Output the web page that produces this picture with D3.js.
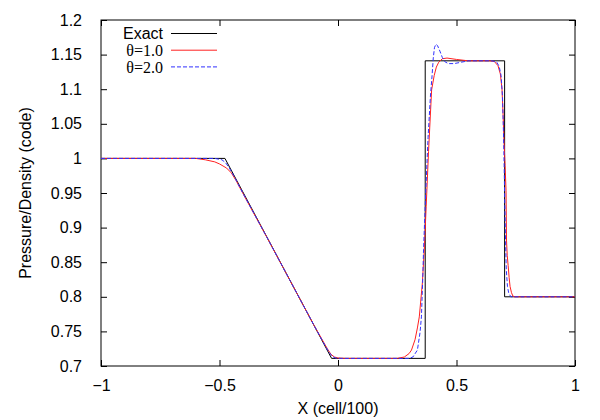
<!DOCTYPE html>
<html>
<head>
<meta charset="utf-8">
<script src="https://cdn.jsdelivr.net/npm/d3@7"></script>
<style>
  body { margin: 0; background: #fff; }
  text { font-family: "Liberation Sans", Arial, sans-serif; font-size: 16px; fill: #000; }
  .serif { font-family: "Liberation Serif", "Times New Roman", serif; }
</style>
</head>
<body>
<svg id="chart"></svg>
<script>
// exact solution (piecewise linear)
const exactX = [-1, -0.477, -0.027, 0.368, 0.368, 0.703, 0.703, 1];
const exactY = [1.0, 1.0, 0.711, 0.711, 1.141, 1.141, 0.80, 0.80];

// theta = 1.0
const theta1X = [-1, -0.6, -0.56, -0.52, -0.5, -0.47, -0.45, -0.43, -0.41, -0.38, -0.3, -0.2, -0.1, -0.08, -0.06, -0.045, -0.03, -0.015, 0, 0.03,
  0.25, 0.28, 0.30, 0.31, 0.325, 0.335, 0.343, 0.356, 0.364, 0.372, 0.382, 0.395, 0.406, 0.415, 0.425, 0.44, 0.46, 0.5, 0.55,
  0.64, 0.66, 0.675, 0.685, 0.692, 0.697, 0.70, 0.705, 0.709, 0.711, 0.714, 0.718, 0.722, 0.726, 0.732, 0.738, 0.745, 1];
const theta1Y = [1.0, 1.0, 0.998, 0.995, 0.992, 0.986, 0.979, 0.968, 0.955, 0.936, 0.886, 0.822, 0.758, 0.746, 0.734, 0.725, 0.717, 0.713, 0.7115, 0.711,
  0.711, 0.713, 0.718, 0.723, 0.738, 0.755, 0.771, 0.82, 0.868, 0.93, 1.01, 1.099, 1.12, 1.132, 1.139, 1.144, 1.145, 1.143, 1.141,
  1.141, 1.14, 1.134, 1.122, 1.10, 1.06, 1.027, 0.99, 0.954, 0.882, 0.86, 0.845, 0.828, 0.815, 0.806, 0.801, 0.80, 0.80];

// theta = 2.0
const theta2X = [-1, -0.52, -0.49, -0.475, -0.46, -0.44, -0.4, -0.3, -0.2, -0.1, -0.06, -0.04, -0.025, -0.01, 0.01,
  0.30, 0.316, 0.335, 0.346, 0.352, 0.357, 0.361, 0.37, 0.38, 0.39, 0.397, 0.402, 0.407, 0.413, 0.42, 0.43, 0.44, 0.45, 0.465, 0.49, 0.52, 0.55,
  0.65, 0.67, 0.68, 0.688, 0.694, 0.698, 0.701, 0.704, 0.707, 0.71, 0.715, 0.72, 0.729, 1];
const theta2Y = [1.0, 1.0, 0.998, 0.994, 0.987, 0.975, 0.949, 0.886, 0.822, 0.758, 0.733, 0.721, 0.714, 0.7115, 0.711,
  0.711, 0.713, 0.723, 0.748, 0.771, 0.82, 0.868, 0.95, 1.03, 1.09, 1.12, 1.145, 1.16, 1.165, 1.163, 1.155, 1.146, 1.14, 1.137, 1.137, 1.139, 1.141,
  1.141, 1.139, 1.133, 1.12, 1.09, 1.04, 0.99, 0.93, 0.88, 0.84, 0.815, 0.806, 0.80, 0.80];

const xTicks = [-1, -0.5, 0, 0.5, 1];
const yTicks = [0.7, 0.75, 0.8, 0.85, 0.9, 0.95, 1, 1.05, 1.1, 1.15, 1.2];

const width = 600, height = 420;
const m = { left: 101, right: 575, top: 20, bottom: 366 };

const svg = d3.select("#chart").attr("width", width).attr("height", height);

const x = d3.scaleLinear().domain([-1, 1]).range([m.left, m.right]);
const y = d3.scaleLinear().domain([0.7, 1.2]).range([m.bottom, m.top]);

// axes with inward ticks, mirrored on top/right
svg.append("g").attr("transform", `translate(0,${m.bottom})`)
  .call(d3.axisBottom(x).tickValues(xTicks).tickSize(-6).tickPadding(14).tickFormat(d3.format("")))
  .call(g => g.select(".domain").remove());
svg.append("g").attr("transform", `translate(0,${m.top})`)
  .call(d3.axisTop(x).tickValues(xTicks).tickSize(-6).tickFormat(""))
  .call(g => g.select(".domain").remove());
svg.append("g").attr("transform", `translate(${m.left},0)`)
  .call(d3.axisLeft(y).tickValues(yTicks).tickSize(-6).tickPadding(19).tickFormat(d3.format("")))
  .call(g => g.select(".domain").remove());
svg.append("g").attr("transform", `translate(${m.right},0)`)
  .call(d3.axisRight(y).tickValues(yTicks).tickSize(-6).tickFormat(""))
  .call(g => g.select(".domain").remove());

svg.selectAll(".tick text").style("font-size", "16px").attr("fill", "#000");
svg.selectAll(".tick line").attr("stroke", "#000");

svg.append("rect")
  .attr("x", m.left).attr("y", m.top)
  .attr("width", m.right - m.left).attr("height", m.bottom - m.top)
  .attr("fill", "none").attr("stroke", "#000").attr("stroke-width", 1);

const line = d3.line().x(d => x(d[0])).y(d => y(d[1]));
const zip = (a, b) => a.map((v, i) => [v, b[i]]);

svg.append("path").datum(zip(exactX, exactY))
  .attr("d", line).attr("fill", "none").attr("stroke", "#000").attr("stroke-width", 1);
svg.append("path").datum(zip(theta1X, theta1Y))
  .attr("d", line).attr("fill", "none").attr("stroke", "#ff2020").attr("stroke-width", 1);
svg.append("path").datum(zip(theta2X, theta2Y))
  .attr("d", line).attr("fill", "none").attr("stroke", "#3030ff").attr("stroke-width", 1)
  .attr("stroke-dasharray", "4,2");

// legend
const legend = [
  { label: "Exact", color: "#000", dash: null, serif: false },
  { label: "θ=1.0", color: "#ff2020", dash: null, serif: true },
  { label: "θ=2.0", color: "#3030ff", dash: "4,2", serif: true }
];
legend.forEach((d, i) => {
  const ly = 33.5 + i * 16.7;
  svg.append("text").attr("x", 163).attr("y", ly).attr("dy", "0.35em")
    .attr("text-anchor", "end").attr("class", d.serif ? "serif" : null).text(d.label);
  svg.append("line").attr("x1", 171).attr("x2", 217).attr("y1", ly).attr("y2", ly)
    .attr("stroke", d.color).attr("stroke-width", 1).attr("stroke-dasharray", d.dash);
});

svg.append("text").attr("x", (m.left + m.right) / 2).attr("y", 414)
  .attr("text-anchor", "middle").text("X (cell/100)");
svg.append("text").attr("transform", `translate(31,${(m.top + m.bottom) / 2}) rotate(-90)`)
  .attr("text-anchor", "middle").text("Pressure/Density (code)");
</script>
</body>
</html>
